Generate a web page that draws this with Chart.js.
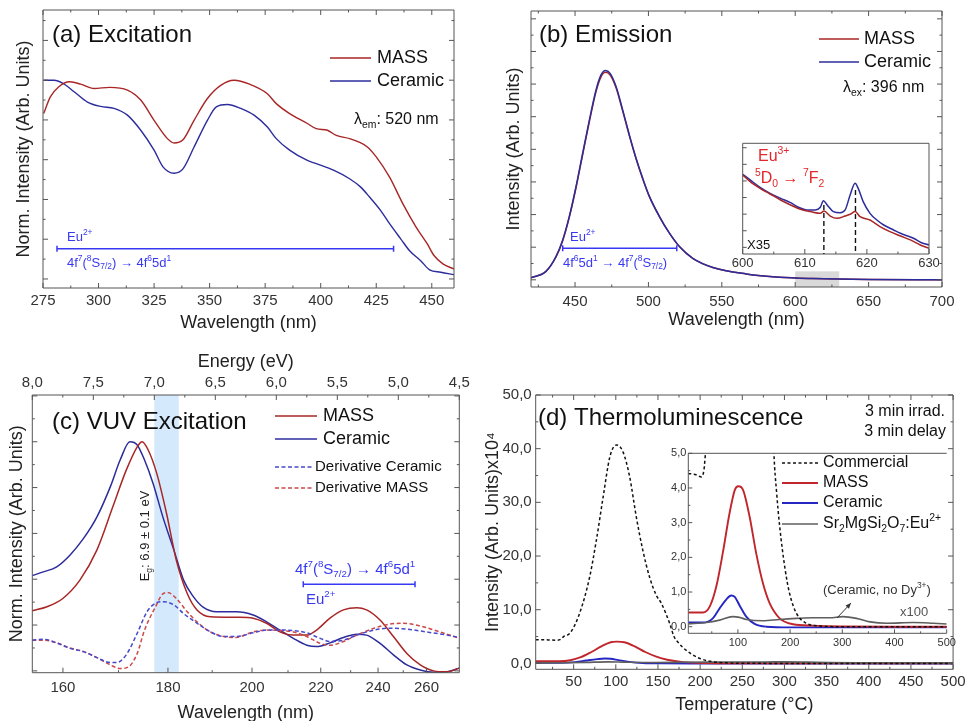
<!DOCTYPE html>
<html lang="en">
<head>
<meta charset="UTF-8">
<title>Excitation, emission, VUV excitation and thermoluminescence</title>
<script src="https://cdn.jsdelivr.net/npm/chart.js"></script>
<style>
  html, body { margin: 0; padding: 0; background: #fff; overflow: hidden; }
  #page { position: relative; width: 969px; height: 721px; overflow: hidden; background: #fff; }
  canvas { position: absolute; }
</style>
</head>
<body>
<div id="page">
  <canvas id="cA" width="480" height="340" style="left:0;top:0"></canvas>
  <canvas id="cB" width="489" height="340" style="left:480px;top:0"></canvas>
  <canvas id="cC" width="480" height="395" style="left:0;top:340px"></canvas>
  <canvas id="cD" width="489" height="395" style="left:480px;top:340px"></canvas>
  <canvas id="cBi" width="230" height="150" style="left:720px;top:130px"></canvas>
  <canvas id="cDi" width="310" height="215" style="left:655px;top:440px"></canvas>
</div>
<script>
// ---------- data ----------
// (a) excitation, wavelength in nm, normalised intensity
const aMassNm = [275.3, 278.3, 282, 287, 292, 298, 305, 313, 319, 325, 331, 334, 338, 343, 349, 355, 361, 368, 376, 380, 386, 394, 398, 403, 407, 413, 417, 421, 425, 431, 437, 443, 448, 451, 455, 460];
const aMass   = [4.16, 4.58, 4.83, 4.96, 4.90, 4.79, 4.82, 4.75, 4.50, 3.99, 3.53, 3.42, 3.50, 3.99, 4.54, 4.87, 5.00, 4.90, 4.66, 4.41, 4.16, 3.91, 3.78, 3.74, 3.61, 3.53, 3.45, 3.32, 3.07, 2.56, 1.89, 1.30, 0.88, 0.59, 0.38, 0.25];
const aCerNm  = [275.3, 280, 284, 289, 295, 301, 307, 313, 319, 325, 329, 334, 338, 343, 349, 353, 358, 364, 370, 376, 380, 386, 394, 398, 406, 413, 418, 422, 427, 431, 436, 440, 445, 449, 454, 460];
const aCer    = [5.00, 5.00, 4.92, 4.71, 4.45, 4.34, 4.29, 4.12, 3.74, 3.24, 2.82, 2.66, 2.77, 3.32, 3.99, 4.33, 4.39, 4.29, 4.12, 3.82, 3.53, 3.24, 2.98, 2.90, 2.73, 2.52, 2.31, 2.06, 1.72, 1.39, 1.01, 0.71, 0.46, 0.23, 0.17, 0.11];
const aXMajor = [275, 300, 325, 350, 375, 400, 425, 450];
const aXMinor = [287.5, 312.5, 337.5, 362.5, 387.5, 412.5, 437.5];
const aYMajor = [0, 1, 2, 3, 4, 5, 6];
const aYMinor = [0.5, 1.5, 2.5, 3.5, 4.5, 5.5, 6.5];

// (b) emission
const bNm   = [420, 430.2, 437.0, 441.6, 446.1, 450.7, 455.2, 459.8, 464.3, 467.7, 470.7, 473.9, 478.0, 482.5, 487.0, 491.6, 496.1, 500.7, 507.5, 514.3, 521.1, 530.2, 543.9, 566.6, 589.3, 612.1, 650, 700];
const bMass = [0.06, 0.26, 0.70, 1.20, 1.92, 2.83, 3.84, 4.86, 5.77, 6.22, 6.36, 6.28, 5.88, 5.17, 4.42, 3.71, 3.10, 2.55, 1.94, 1.43, 1.02, 0.66, 0.38, 0.18, 0.08, 0.04, 0.01, 0.0];
const bCer  = [0.06, 0.26, 0.71, 1.22, 1.94, 2.86, 3.88, 4.90, 5.82, 6.28, 6.42, 6.33, 5.92, 5.20, 4.44, 3.72, 3.11, 2.55, 1.94, 1.43, 1.02, 0.66, 0.38, 0.18, 0.08, 0.04, 0.01, 0.0];
const bXMajor = [450, 500, 550, 600, 650, 700];
const bXMinor = [425, 475, 525, 575, 625, 675];
const bYMajor = [0, 1, 2, 3, 4, 5, 6, 7, 8];
const bYMinor = [0.5, 1.5, 2.5, 3.5, 4.5, 5.5, 6.5, 7.5];
// (b) inset, x35
const biCerNm  = [600, 601.2, 602.8, 604.4, 606.1, 607.7, 609, 610.3, 611.7, 612.5, 613, 613.6, 614.6, 615.7, 616.5, 617.3, 618.1, 618.6, 619.4, 620.5, 621.6, 622.7, 624.3, 625.4, 626.1, 627.5, 628.8, 630];
const biCer    = [7.20, 6.69, 6.02, 5.48, 5.03, 4.64, 4.22, 3.98, 3.98, 4.22, 4.82, 4.43, 3.83, 3.73, 3.98, 5.33, 6.39, 5.93, 4.73, 3.67, 3.07, 2.62, 2.17, 1.87, 1.72, 1.42, 1.02, 0.81];
const biMassNm = [600, 601.2, 602.8, 604.4, 606.1, 607.7, 609.3, 610.9, 612.5, 613.1, 614.1, 615.2, 616.5, 617.4, 618.1, 618.9, 620.5, 622.1, 623.7, 625.4, 627, 628.6, 630];
const biMass   = [7.14, 6.54, 5.93, 5.42, 4.88, 4.43, 4.04, 3.83, 3.67, 3.89, 3.43, 3.22, 3.43, 3.61, 3.83, 3.37, 3.07, 2.47, 2.02, 1.63, 1.27, 0.81, 0.51];
const biXMajor = [600, 610, 620, 630];
const biXMinor = [605, 615, 625];
const biYTicks = [0.6, 2.1, 3.6, 5.1, 6.6, 8.1, 9.6];

// (c) VUV excitation, plotted against energy in eV
const HC = 1239.84;
const cCerE  = [8.0, 7.91, 7.80, 7.69, 7.58, 7.47, 7.36, 7.28, 7.20, 7.14, 7.08, 7.01, 6.93, 6.84, 6.76, 6.68, 6.60, 6.49, 6.33, 6.19, 6.08, 5.97, 5.86, 5.75, 5.67, 5.56, 5.45, 5.34, 5.26, 5.15, 5.04, 4.93, 4.82, 4.71, 4.60, 4.50];
const cCer   = [1.08, 1.16, 1.27, 1.53, 1.89, 2.36, 3.02, 3.60, 4.00, 3.93, 3.60, 3.09, 2.36, 1.64, 0.98, 0.62, 0.39, 0.29, 0.29, 0.22, 0.07, -0.11, -0.29, -0.44, -0.47, -0.39, -0.27, -0.20, -0.22, -0.40, -0.65, -0.87, -0.98, -1.03, -1.02, -0.94];
const cMassE = [8.0, 7.88, 7.75, 7.61, 7.47, 7.34, 7.23, 7.14, 7.10, 7.05, 6.98, 6.90, 6.82, 6.73, 6.65, 6.54, 6.38, 6.30, 6.19, 6.08, 5.97, 5.86, 5.75, 5.67, 5.56, 5.45, 5.34, 5.26, 5.15, 5.04, 4.93, 4.82, 4.71, 4.60, 4.50];
const cMass  = [0.31, 0.40, 0.58, 0.98, 1.64, 2.58, 3.38, 3.89, 4.00, 3.82, 3.31, 2.44, 1.42, 0.69, 0.33, 0.18, 0.17, 0.17, 0.15, 0.04, -0.15, -0.22, -0.22, -0.11, 0.15, 0.33, 0.38, 0.33, 0.11, -0.25, -0.62, -0.87, -1.00, -1.02, -0.94];
const cDerCerE = [8.0, 7.91, 7.80, 7.69, 7.58, 7.47, 7.36, 7.31, 7.23, 7.14, 7.06, 6.98, 6.93, 6.84, 6.76, 6.65, 6.54, 6.43, 6.33, 6.19, 6.08, 5.97, 5.86, 5.75, 5.64, 5.56, 5.45, 5.34, 5.20, 5.07, 4.93, 4.77, 4.60, 4.50];
const cDerCer  = [-0.33, -0.31, -0.39, -0.51, -0.58, -0.71, -0.82, -0.82, -0.65, -0.18, 0.29, 0.49, 0.51, 0.44, 0.25, 0.04, -0.15, -0.25, -0.25, -0.17, -0.11, -0.11, -0.12, -0.17, -0.29, -0.36, -0.33, -0.22, -0.11, -0.07, -0.09, -0.15, -0.22, -0.27];
const cDerMassE = [8.0, 7.91, 7.80, 7.69, 7.58, 7.47, 7.36, 7.28, 7.21, 7.14, 7.08, 6.99, 6.93, 6.89, 6.82, 6.73, 6.65, 6.54, 6.43, 6.33, 6.19, 6.08, 5.97, 5.86, 5.75, 5.64, 5.56, 5.45, 5.34, 5.20, 5.07, 4.96, 4.82, 4.66, 4.50];
const cDerMass  = [-0.33, -0.33, -0.39, -0.50, -0.58, -0.71, -0.87, -0.95, -0.91, -0.62, -0.11, 0.40, 0.68, 0.71, 0.58, 0.29, 0.07, -0.15, -0.25, -0.27, -0.15, -0.11, -0.12, -0.15, -0.25, -0.40, -0.44, -0.36, -0.22, -0.07, 0.02, 0.04, -0.02, -0.15, -0.29];
const cEMajor = [4.5, 5.0, 5.5, 6.0, 6.5, 7.0, 7.5, 8.0];
const cEMinor = [4.75, 5.25, 5.75, 6.25, 6.75, 7.25, 7.75];
const cWaveMajor = [160, 180, 200, 220, 240, 260];
const cWaveMinor = [170, 190, 210, 230, 250];
const cYMajor = [-1, 0, 1, 2, 3, 4, 5];
const cYMinor = [-0.5, 0.5, 1.5, 2.5, 3.5, 4.5];

// (d) thermoluminescence, temperature in °C, intensity x10^4
const dCommT = [5, 20, 30, 35, 38, 45.5, 57, 69, 77, 85, 93, 101, 108.5, 116.4, 124.3, 132, 140, 148, 154, 164, 169, 174, 180, 190, 199, 212, 231, 257, 300, 400, 500];
const dComm  = [4.42, 4.38, 4.32, 4.52, 5.0, 5.6, 9.3, 16.1, 23.0, 31.0, 38.5, 40.7, 39.4, 34.8, 27.3, 21.1, 16.1, 12.7, 11.2, 7.4, 5.0, 3.9, 2.9, 1.7, 0.96, 0.39, 0.10, 0.02, 0.0, 0.0, 0.0];
const dMassT = [5, 33, 46, 58.5, 71, 84, 94, 101, 110, 122.5, 135, 148, 161, 180, 206, 244, 300, 400, 500];
const dMass  = [0.41, 0.41, 0.58, 1.15, 2.12, 3.27, 3.94, 4.05, 3.94, 3.17, 2.12, 1.25, 0.67, 0.24, 0.07, 0.03, 0.01, 0.0, 0.0];
const dCerT  = [5, 33, 52, 65, 78, 87, 94, 103, 116, 132, 155, 200, 300, 400, 500];
const dCer   = [0.12, 0.12, 0.24, 0.53, 0.79, 0.90, 0.86, 0.62, 0.29, 0.08, 0.0, -0.02, -0.02, -0.02, -0.02];
const dSrT   = [5, 39, 65, 90, 103, 116, 148, 180, 212, 244, 276, 301, 327, 353, 385, 436, 474, 500];
const dSr    = [0.08, 0.12, 0.19, 0.29, 0.27, 0.21, 0.17, 0.21, 0.24, 0.26, 0.26, 0.29, 0.24, 0.14, 0.10, 0.12, 0.10, 0.08];
const dXMajor = [50, 100, 150, 200, 250, 300, 350, 400, 450, 500];
const dXMinor = [25, 75, 125, 175, 225, 275, 325, 375, 425, 475];
const dYMajor = [0, 10, 20, 30, 40, 50];
const dYMinor = [5, 15, 25, 35, 45];
const diXMajor = [100, 200, 300, 400, 500];
const diXMinor = [50, 150, 250, 350, 450];
const diYMajor = [0, 1, 2, 3, 4, 5];
const diYMinor = [0.5, 1.5, 2.5, 3.5, 4.5];

// ---------- styling ----------
const FONT = '"Liberation Sans", Arial, Helvetica, sans-serif';
const RED = '#a82626', BLUE = '#2c2c9c', ANN = '#3838f2', EU3 = '#e3262b';
const DER_BLUE = '#4848cc', DER_RED = '#cc4848';
const RED_D = '#c0262b', BLUE_D = '#2626c2', GRAY_D = '#5e5e5e';

function pts(xs, ys) { return xs.map((x, i) => ({x: x, y: ys[i]})); }
function fixTicks(vals) { return s => { s.ticks = vals.map(v => ({value: v})); }; }
const comma = v => v.toFixed(1).replace('.', ',');

function drawRich(ctx, x, y, parts, size, color, align) {
  const segs = parts.map(p => typeof p === 'string' ? {t: p, k: ''} : {t: p[0], k: p[1]});
  let w = 0;
  segs.forEach(s => {
    s.fs = s.k ? size * 0.65 : size;
    ctx.font = s.fs + 'px ' + FONT;
    s.w = ctx.measureText(s.t).width;
    w += s.w;
  });
  let cx = align === 'right' ? x - w : align === 'center' ? x - w / 2 : x;
  ctx.fillStyle = color;
  ctx.textAlign = 'left';
  ctx.textBaseline = 'middle';
  segs.forEach(s => {
    ctx.font = s.fs + 'px ' + FONT;
    const dy = s.k === 'sup' ? -size * 0.36 : s.k === 'sub' ? size * 0.3 : 0;
    ctx.fillText(s.t, cx, y + dy);
    cx += s.w;
  });
}

// box round the plot area, with inward tick marks
const framePlugin = {
  id: 'frame',
  afterDraw(chart, args, o) {
    const {ctx, chartArea: a} = chart;
    const sides = o.sides || ['top', 'right', 'bottom', 'left'];
    ctx.save();
    ctx.strokeStyle = o.color || '#555';
    ctx.lineWidth = 1;
    ctx.setLineDash([]);
    ctx.beginPath();
    if (sides.includes('top')) { ctx.moveTo(a.left, a.top); ctx.lineTo(a.right, a.top); }
    if (sides.includes('bottom')) { ctx.moveTo(a.left, a.bottom); ctx.lineTo(a.right, a.bottom); }
    if (sides.includes('left')) { ctx.moveTo(a.left, a.top); ctx.lineTo(a.left, a.bottom); }
    if (sides.includes('right')) { ctx.moveTo(a.right, a.top); ctx.lineTo(a.right, a.bottom); }
    (o.marks || []).forEach(m => {
      const sc = chart.scales[m.scale];
      const len = m.len || 5;
      [[m.major || [], len], [m.minor || [], len / 2]].forEach(([vals, l]) => {
        vals.forEach(v => {
          const p = sc.getPixelForValue(v);
          m.sides.forEach(s => {
            if (s === 'bottom') { ctx.moveTo(p, a.bottom); ctx.lineTo(p, a.bottom - l); }
            else if (s === 'top') { ctx.moveTo(p, a.top); ctx.lineTo(p, a.top + l); }
            else if (s === 'left') { ctx.moveTo(a.left, p); ctx.lineTo(a.left + l, p); }
            else { ctx.moveTo(a.right, p); ctx.lineTo(a.right - l, p); }
          });
        });
      });
    });
    ctx.stroke();
    ctx.restore();
  }
};

// notes, legend keys, marker bars and shaded boxes
const decoPlugin = {
  id: 'deco',
  beforeDatasetsDraw(chart, args, o) {
    const {ctx, chartArea: a, scales} = chart;
    (o.boxes || []).forEach(b => {
      const xs = scales[b.xAxis || 'x'];
      const x0 = xs.getPixelForValue(b.x0), x1 = xs.getPixelForValue(b.x1);
      const y0 = b.y0 == null ? a.bottom : scales.y.getPixelForValue(b.y0);
      const y1 = b.y1 == null ? a.top : scales.y.getPixelForValue(b.y1);
      ctx.save();
      ctx.fillStyle = b.color;
      ctx.fillRect(Math.min(x0, x1), Math.min(y0, y1), Math.abs(x1 - x0), Math.abs(y1 - y0));
      ctx.restore();
    });
  },
  afterDraw(chart, args, o) {
    const {ctx, scales} = chart;
    ctx.save();
    (o.bars || []).forEach(b => {
      const x0 = scales.x.getPixelForValue(b.x0), x1 = scales.x.getPixelForValue(b.x1);
      const y = scales.y.getPixelForValue(b.y);
      ctx.strokeStyle = b.color; ctx.lineWidth = 1.5; ctx.setLineDash([]);
      ctx.beginPath();
      ctx.moveTo(x0, y); ctx.lineTo(x1, y);
      ctx.moveTo(x0, y - 3); ctx.lineTo(x0, y + 3);
      ctx.moveTo(x1, y - 3); ctx.lineTo(x1, y + 3);
      ctx.stroke();
    });
    (o.vlines || []).forEach(v => {
      const x = scales.x.getPixelForValue(v.x);
      ctx.strokeStyle = '#111'; ctx.lineWidth = 1.4; ctx.setLineDash([5, 3]);
      ctx.beginPath();
      ctx.moveTo(x, scales.y.getPixelForValue(v.y0)); ctx.lineTo(x, scales.y.getPixelForValue(v.y1));
      ctx.stroke();
    });
    (o.keys || []).forEach(k => {
      ctx.strokeStyle = k.color; ctx.lineWidth = k.width || 1.5; ctx.setLineDash(k.dash || []);
      ctx.beginPath(); ctx.moveTo(k.x0, k.y); ctx.lineTo(k.x1, k.y); ctx.stroke();
    });
    ctx.setLineDash([]);
    (o.arrows || []).forEach(r => {
      const ang = Math.atan2(r.y1 - r.y0, r.x1 - r.x0);
      ctx.strokeStyle = r.color; ctx.fillStyle = r.color; ctx.lineWidth = 1;
      ctx.beginPath(); ctx.moveTo(r.x0, r.y0); ctx.lineTo(r.x1, r.y1); ctx.stroke();
      ctx.beginPath();
      ctx.moveTo(r.x1, r.y1);
      ctx.lineTo(r.x1 - 6 * Math.cos(ang - 0.4), r.y1 - 6 * Math.sin(ang - 0.4));
      ctx.lineTo(r.x1 - 6 * Math.cos(ang + 0.4), r.y1 - 6 * Math.sin(ang + 0.4));
      ctx.closePath(); ctx.fill();
    });
    (o.texts || []).forEach(t => {
      if (t.rot) {
        ctx.save(); ctx.translate(t.x, t.y); ctx.rotate(t.rot);
        drawRich(ctx, 0, 0, t.parts, t.size, t.color || '#111', 'center');
        ctx.restore();
      } else {
        drawRich(ctx, t.x, t.y, t.parts, t.size, t.color || '#111', t.align || 'left');
      }
    });
    ctx.restore();
  }
};
Chart.register(framePlugin, decoPlugin);

function axis(o) {
  return Object.assign({
    type: 'linear',
    grid: {display: false, drawTicks: false},
    border: {display: false},
    ticks: {display: false}
  }, o);
}
function tickOpts(size, pad, cb) {
  return {display: true, font: {family: FONT, size: size}, color: '#333', padding: pad,
          autoSkip: false, maxRotation: 0, callback: cb};
}
function titleOpts(text, top, bottom) {
  return {display: true, text: text, color: '#222', font: {family: FONT, size: 18},
          padding: {top: top, bottom: bottom}};
}
function line(data, color, width, dash, xId) {
  return {data: data, borderColor: color, borderWidth: width, borderDash: dash || [],
          pointRadius: 0, fill: false, cubicInterpolationMode: 'monotone', xAxisID: xId || 'x'};
}
function makeChart(id, datasets, scales, padding, frame, deco) {
  return new Chart(document.getElementById(id), {
    type: 'line',
    data: {datasets: datasets},
    options: {
      responsive: false, animation: false, events: [],
      layout: {padding: padding},
      scales: scales,
      plugins: {legend: {display: false}, tooltip: {enabled: false}, frame: frame, deco: deco}
    }
  });
}

const eu2 = ['Eu', ['2+', 'sup']];
const absTr = ['4f', ['7', 'sup'], '(', ['8', 'sup'], 'S', ['7/2', 'sub'], ') \u2192 4f', ['6', 'sup'], '5d', ['1', 'sup']];
const emTr = ['4f', ['6', 'sup'], '5d', ['1', 'sup'], ' \u2192 4f', ['7', 'sup'], '(', ['8', 'sup'], 'S', ['7/2', 'sub'], ')'];

// ---------- (a) ----------
makeChart('cA', [
  line(pts(aMassNm, aMass), RED, 1.4),
  line(pts(aCerNm, aCer), BLUE, 1.4)
], {
  x: axis({position: 'bottom', min: 275, max: 460, afterFit: s => { s.height = 52; },
    afterBuildTicks: fixTicks(aXMajor), ticks: tickOpts(15, 4, v => String(v)),
    title: titleOpts('Wavelength (nm)', 0, 6)}),
  y: axis({min: -0.227, max: 6.765, afterFit: s => { s.width = 43; },
    title: titleOpts('Norm. Intensity (Arb. Units)', 13, 0)})
}, {top: 10, right: 26, bottom: 0, left: 0}, {
  marks: [
    {scale: 'x', major: aXMajor, minor: aXMinor, sides: ['bottom', 'top'], len: 5},
    {scale: 'y', major: aYMajor, minor: aYMinor, sides: ['left', 'right'], len: 5}
  ]
}, {
  bars: [{x0: 281.3, x1: 432.8, y: 0.76, color: ANN}],
  keys: [
    {x0: 330, x1: 371, y: 58, color: RED},
    {x0: 330, x1: 371, y: 81, color: BLUE}
  ],
  texts: [
    {x: 52, y: 35, parts: ['(a) Excitation'], size: 24},
    {x: 377, y: 58, parts: ['MASS'], size: 18},
    {x: 377, y: 81, parts: ['Ceramic'], size: 18},
    {x: 354, y: 120, parts: ['\u03bb', ['em', 'sub'], ': 520 nm'], size: 16},
    {x: 67, y: 237, parts: eu2, size: 13, color: ANN},
    {x: 67, y: 263, parts: absTr, size: 13, color: ANN}
  ]
});

// ---------- (b) ----------
makeChart('cB', [
  line(pts(bNm, bCer), BLUE, 1.5),
  line(pts(bNm, bMass), RED, 1.5)
], {
  x: axis({position: 'bottom', min: 420, max: 700, afterFit: s => { s.height = 53; },
    afterBuildTicks: fixTicks(bXMajor), ticks: tickOpts(15, 5.7, v => String(v)),
    title: titleOpts('Wavelength (nm)', 0, 9)}),
  y: axis({min: -0.22, max: 8.24, afterFit: s => { s.width = 51; },
    title: titleOpts('Intensity (Arb. Units)', 23, 0)})
}, {top: 11, right: 27, bottom: 0, left: 0}, {
  marks: [
    {scale: 'x', major: bXMajor, minor: bXMinor, sides: ['bottom', 'top'], len: 5},
    {scale: 'y', major: bYMajor, minor: bYMinor, sides: ['left', 'right'], len: 5}
  ]
}, {
  boxes: [{x0: 600, x1: 630, y0: null, y1: 0.26, color: '#d9d9d9'}],
  bars: [{x0: 441.6, x1: 519.3, y: 0.97, color: ANN}],
  keys: [
    {x0: 339, x1: 379, y: 39, color: RED},
    {x0: 339, x1: 379, y: 62, color: BLUE}
  ],
  texts: [
    {x: 59, y: 35, parts: ['(b) Emission'], size: 24},
    {x: 384, y: 39, parts: ['MASS'], size: 18},
    {x: 384, y: 62, parts: ['Ceramic'], size: 18},
    {x: 363, y: 88, parts: ['\u03bb', ['ex', 'sub'], ': 396 nm'], size: 16},
    {x: 90, y: 237, parts: eu2, size: 13, color: ANN},
    {x: 83, y: 263, parts: emTr, size: 13, color: ANN}
  ]
});

// (b) inset
makeChart('cBi', [
  line(pts(biMassNm, biMass), RED, 1.5),
  line(pts(biCerNm, biCer), BLUE, 1.5)
], {
  x: axis({position: 'bottom', min: 600, max: 630, afterFit: s => { s.height = 26; },
    afterBuildTicks: fixTicks(biXMajor), ticks: tickOpts(13, 1.5, v => String(v))}),
  y: axis({min: 0, max: 10, afterFit: s => { s.width = 22.7; }})
}, {top: 13.3, right: 21, bottom: 0, left: 0}, {
  marks: [
    {scale: 'x', major: biXMajor, minor: biXMinor, sides: ['bottom'], len: 5},
    {scale: 'y', major: biYTicks, sides: ['left'], len: 4}
  ]
}, {
  vlines: [{x: 613.07, y0: 4.43, y1: 0}, {x: 618.16, y0: 5.78, y1: 0}],
  texts: [
    {x: 38, y: 27, parts: ['Eu', ['3+', 'sup']], size: 16, color: EU3},
    {x: 35, y: 49, parts: [['5', 'sup'], 'D', ['0', 'sub'], ' \u2192 ', ['7', 'sup'], 'F', ['2', 'sub']], size: 16, color: EU3},
    {x: 27, y: 115, parts: ['X35'], size: 13}
  ]
});

// ---------- (c) ----------
const cWaveE = cWaveMajor.map(w => HC / w);
const cWaveMinorE = cWaveMinor.map(w => HC / w);
makeChart('cC', [
  line(pts(cDerCerE, cDerCer), DER_BLUE, 1.5, [4, 2.5]),
  line(pts(cDerMassE, cDerMass), DER_RED, 1.5, [4, 2.5]),
  line(pts(cMassE, cMass), RED, 1.5),
  line(pts(cCerE, cCer), BLUE, 1.5)
], {
  x: axis({position: 'top', min: 4.5, max: 8.0, reverse: true, afterFit: s => { s.height = 55; },
    afterBuildTicks: fixTicks(cEMajor), ticks: tickOpts(15, 3.3, v => comma(v)),
    title: titleOpts('Energy (eV)', 11, 0)}),
  xb: axis({position: 'bottom', min: 4.5, max: 8.0, reverse: true, afterFit: s => { s.height = 62.3; },
    afterBuildTicks: fixTicks(cWaveE), ticks: tickOpts(15, 6.6, v => String(Math.round(HC / v))),
    title: titleOpts('Wavelength (nm)', 0, 11)}),
  y: axis({min: -1.04, max: 5.02, afterFit: s => { s.width = 32.3; },
    title: titleOpts('Norm. Intensity (Arb. Units)', 6, 0)})
}, {top: 0, right: 20.7, bottom: 0, left: 0}, {
  marks: [
    {scale: 'x', major: cEMajor, minor: cEMinor, sides: ['top'], len: 5},
    {scale: 'xb', major: cWaveE, minor: cWaveMinorE, sides: ['bottom'], len: 5},
    {scale: 'y', major: cYMajor, minor: cYMinor, sides: ['left', 'right'], len: 5}
  ]
}, {
  boxes: [{x0: 6.8, x1: 7.0, color: '#d5e9fc'}],
  bars: [{x0: 5.779, x1: 4.863, y: 0.89, color: ANN}],
  keys: [
    {x0: 275, x1: 317, y: 76, color: RED},
    {x0: 275, x1: 317, y: 99, color: BLUE},
    {x0: 275, x1: 313, y: 127, color: DER_BLUE, dash: [4, 2.5]},
    {x0: 275, x1: 313, y: 148, color: DER_RED, dash: [4, 2.5]}
  ],
  texts: [
    {x: 52, y: 82, parts: ['(c) VUV Excitation'], size: 24},
    {x: 323, y: 76, parts: ['MASS'], size: 18},
    {x: 323, y: 99, parts: ['Ceramic'], size: 18},
    {x: 315, y: 127, parts: ['Derivative Ceramic'], size: 15},
    {x: 315, y: 148, parts: ['Derivative MASS'], size: 15},
    {x: 145.5, y: 196, rot: -Math.PI / 2, parts: ['E', ['g', 'sub'], ': 6.9 \u00b1 0.1 eV'], size: 13, color: '#222'},
    {x: 295, y: 230, parts: absTr, size: 15, color: ANN},
    {x: 306, y: 260, parts: eu2, size: 15, color: ANN}
  ]
});

// ---------- (d) ----------
const dSets = () => [
  line(pts(dCommT, dComm), '#111', 1.5, [3, 2.5]),
  line(pts(dSrT, dSr), GRAY_D, 1.6),
  line(pts(dMassT, dMass), RED_D, 1.9),
  line(pts(dCerT, dCer), BLUE_D, 1.9)
];
makeChart('cD', dSets(), {
  x: axis({position: 'bottom', min: 5, max: 500, afterFit: s => { s.height = 65.7; },
    afterBuildTicks: fixTicks(dXMajor), ticks: tickOpts(15, 3.4, v => String(v)),
    title: titleOpts('Temperature (\u00b0C)', 0, 19)}),
  y: axis({min: -1.1, max: 50, afterFit: s => { s.width = 55.7; },
    afterBuildTicks: fixTicks(dYMajor), ticks: tickOpts(15, 4, v => comma(v)),
    title: titleOpts('Intensity (Arb. Units)x10\u2074', 2.5, 0)})
}, {top: 55, right: 13, bottom: 0, left: 0}, {
  marks: [
    {scale: 'x', major: dXMajor, minor: dXMinor, sides: ['bottom', 'top'], len: 5},
    {scale: 'y', major: dYMajor, minor: dYMinor, sides: ['left', 'right'], len: 5}
  ]
}, {
  texts: [
    {x: 58, y: 78, parts: ['(d) Thermoluminescence'], size: 24},
    {x: 465, y: 72, parts: ['3 min irrad.'], size: 16, align: 'right'},
    {x: 466, y: 92, parts: ['3 min delay'], size: 16, align: 'right'}
  ]
});

// (d) inset
makeChart('cDi', dSets(), {
  x: axis({position: 'bottom', min: 5, max: 500, afterFit: s => { s.height = 21.7; },
    afterBuildTicks: fixTicks(diXMajor), ticks: tickOpts(11, 2.8, v => String(v))}),
  y: axis({min: -0.19, max: 5.0, afterFit: s => { s.width = 33.3; },
    afterBuildTicks: fixTicks(diYMajor), ticks: tickOpts(11, 2, v => comma(v))})
}, {top: 13.3, right: 18.3, bottom: 0, left: 0}, {
  sides: ['top', 'left', 'bottom'],
  marks: [
    {scale: 'x', major: diXMajor, minor: diXMinor, sides: ['bottom'], len: 4},
    {scale: 'y', major: diYMajor, minor: diYMinor, sides: ['left'], len: 4}
  ]
}, {
  keys: [
    {x0: 127, x1: 163, y: 23, color: '#111', dash: [3, 2.5]},
    {x0: 127, x1: 163, y: 43, color: RED_D, width: 1.9},
    {x0: 127, x1: 163, y: 63, color: BLUE_D, width: 1.9},
    {x0: 127, x1: 163, y: 84, color: GRAY_D, width: 1.6}
  ],
  arrows: [{x0: 182, y0: 178, x1: 196, y1: 163, color: '#333'}],
  texts: [
    {x: 168, y: 23, parts: ['Commercial'], size: 16},
    {x: 168, y: 43, parts: ['MASS'], size: 16},
    {x: 168, y: 63, parts: ['Ceramic'], size: 16},
    {x: 168, y: 84, parts: ['Sr', ['2', 'sub'], 'MgSi', ['2', 'sub'], 'O', ['7', 'sub'], ':Eu', ['2+', 'sup']], size: 16},
    {x: 168, y: 150, parts: ['(Ceramic, no Dy', ['3+', 'sup'], ')'], size: 13, color: '#333'},
    {x: 245, y: 172, parts: ['x100'], size: 13, color: '#555'}
  ]
});
</script>
</body>
</html>
